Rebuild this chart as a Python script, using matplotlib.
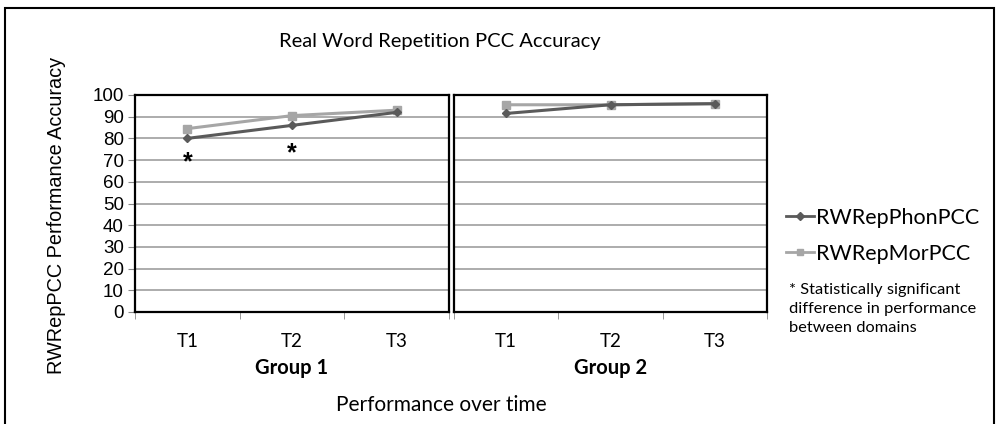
import matplotlib
matplotlib.use("Agg")
import matplotlib.pyplot as plt
from matplotlib.patches import Rectangle
from matplotlib.lines import Line2D

# data
times = ["T1", "T2", "T3"]
groups = ["Group 1", "Group 2"]
phon_g1 = [80, 86, 92]
mor_g1 = [84.5, 90.5, 93]
phon_g2 = [91.5, 95.5, 96]
mor_g2 = [95.5, 95.5, 96]
sig_g1 = [True, True, False]  # starred time points in Group 1
yticks = list(range(0, 101, 10))

PHON_COLOR = "#5a5a5a"
MOR_COLOR = "#a6a6a6"
GRID_COLOR = "#9e9e9e"
BODY_FONT = ["Lato", "DejaVu Sans"]
NUM_FONT = ["Liberation Sans", "DejaVu Sans"]

fig = plt.figure(figsize=(9.97, 4.24), dpi=100)
fig.patch.set_facecolor("white")

# outer chart frame
fig.patches.append(Rectangle((5 / 997, -0.02), 989 / 997, 1.02 - 8 / 424,
                             transform=fig.transFigure, fill=False,
                             edgecolor="black", linewidth=1.5, clip_on=False))

bottom, height = 1 - 312 / 424, 217 / 424
ax1 = fig.add_axes([135 / 997, bottom, 314 / 997, height])
ax2 = fig.add_axes([454 / 997, bottom, 313 / 997, height])

x = list(range(len(times)))
for ax, phon, mor, grp in [(ax1, phon_g1, mor_g1, groups[0]),
                           (ax2, phon_g2, mor_g2, groups[1])]:
    ax.plot(x, mor, color=MOR_COLOR, marker="s", markersize=6, linewidth=2.2, zorder=3)
    ax.plot(x, phon, color=PHON_COLOR, marker="D", markersize=4.5, linewidth=2.2, zorder=4)
    ax.set_xlim(-0.5, 2.5)
    ax.set_ylim(0, 100)
    ax.set_yticks(yticks)
    for y in yticks[1:-1]:
        ax.axhline(y, color=GRID_COLOR, linewidth=1.2, zorder=1)
    ax.set_xticks(x)
    ax.set_xticklabels(times, fontsize=13.5, family=BODY_FONT)
    ax.tick_params(axis="x", which="major", length=0, pad=15)
    ax.set_xticks([-0.5, 0.5, 1.5, 2.5], minor=True)
    ax.tick_params(axis="x", which="minor", length=5, color="#888888", direction="out")
    ax.set_xlabel(grp, fontsize=14.5, fontweight="bold", family=BODY_FONT, labelpad=6)
    for s in ax.spines.values():
        s.set_color("black")
        s.set_linewidth(1.6)

ax1.tick_params(axis="y", length=5, color="#888888", labelsize=13.5, pad=3)
for lab in ax1.get_yticklabels():
    lab.set_family(NUM_FONT)
ax2.tick_params(axis="y", left=False, labelleft=False)

# significance stars under the phonological points
for xi, yi, sig in zip(x, phon_g1, sig_g1):
    if sig:
        ax1.annotate("*", (xi, yi), xytext=(0, -17 - 3 * xi), textcoords="offset points",
                     ha="center", va="center", fontsize=18, fontweight="bold",
                     family=NUM_FONT)

fig.text(440 / 997, 1 - 42 / 424, "Real Word Repetition PCC Accuracy",
         ha="center", va="center", fontsize=14.5, family=BODY_FONT)
fig.text(441 / 997, 1 - 405 / 424, "Performance over time",
         ha="center", va="center", fontsize=15, family=BODY_FONT)
fig.text(57 / 997, 1 - 215 / 424, "RWRepPCC Performance Accuracy", rotation=90,
         ha="center", va="center", fontsize=14.3, family=NUM_FONT)

handles = [Line2D([], [], color=PHON_COLOR, marker="D", markersize=4, linewidth=2),
           Line2D([], [], color=MOR_COLOR, marker="s", markersize=5, linewidth=2)]
fig.legend(handles, ["RWRepPhonPCC", "RWRepMorPCC"], loc="upper left",
           bbox_to_anchor=(777 / 997, 1 - 199 / 424), frameon=False,
           prop={"family": BODY_FONT, "size": 15.5}, handlelength=1.3,
           handletextpad=0.1, labelspacing=0.75, borderaxespad=0)

fig.text(789 / 997, 1 - 283 / 424,
         "* Statistically significant\ndifference in performance\nbetween domains",
         ha="left", va="top", fontsize=11.8, family=BODY_FONT, linespacing=1.45)

fig.savefig("out.png", dpi=100)
